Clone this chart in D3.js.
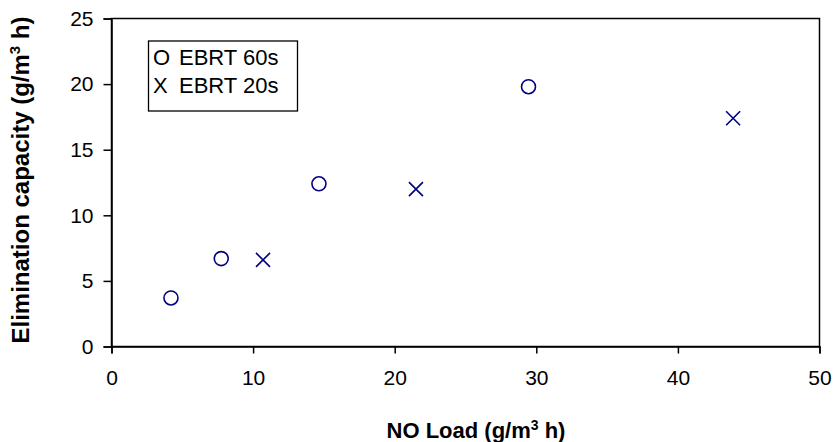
<!DOCTYPE html>
<html>
<head>
<meta charset="utf-8">
<script src="https://cdn.jsdelivr.net/npm/d3@7"></script>
<style>
body { margin: 0; background: #fff; }
text { font-family: "Liberation Sans", Arial, sans-serif; }
</style>
</head>
<body>
<div id="chart"></div>
<script>
// data
var load60 = [4.2, 7.75, 14.65, 29.45];
var ec60 = [3.7, 6.7, 12.4, 19.8];
var load20 = [10.7, 21.5, 43.9];
var ec20 = [6.6, 12.0, 17.4];
var xTicks = [0, 10, 20, 30, 40, 50];
var yTicks = [0, 5, 10, 15, 20, 25];
var legendSymbols = ["O", "X"];
var legendLabels = ["EBRT 60s", "EBRT 20s"];

var W = 835, H = 442;
var margin = {top: 18.5, right: 15.5, bottom: 95.5, left: 111.5};
var width = W - margin.left - margin.right,
    height = H - margin.top - margin.bottom;
var navy = "#000080";

var svg = d3.select("#chart")
  .append("svg")
  .attr("width", W)
  .attr("height", H);

var g = svg.append("g")
  .attr("transform", `translate(${margin.left},${margin.top})`);

var x = d3.scaleLinear().domain([0, 50]).range([0, width]);
var y = d3.scaleLinear().domain([0, 25]).range([height, 0]);

// frame
g.append("rect")
  .attr("width", width)
  .attr("height", height)
  .attr("fill", "none")
  .attr("stroke", "#000")
  .attr("stroke-width", 1.5);

// x axis
var xAxis = g.append("g")
  .attr("transform", `translate(0,${height})`)
  .call(d3.axisBottom(x).tickValues(xTicks).tickSize(7).tickPadding(17));
xAxis.select(".domain").attr("stroke-width", 1.5);
xAxis.selectAll(".tick line").attr("stroke-width", 1.5);
xAxis.selectAll("text").style("font-size", "21px").attr("fill", "#000");

// y axis
var yAxis = g.append("g")
  .call(d3.axisLeft(y).tickValues(yTicks).tickSize(8).tickPadding(10));
yAxis.select(".domain").attr("stroke-width", 1.5);
yAxis.selectAll(".tick line").attr("stroke-width", 1.5);
yAxis.selectAll("text").style("font-size", "21px").attr("fill", "#000");

// EBRT 60s circles
g.selectAll("circle.p60")
  .data(load60)
  .join("circle")
  .attr("class", "p60")
  .attr("cx", d => x(d))
  .attr("cy", (d, i) => y(ec60[i]))
  .attr("r", 7)
  .attr("fill", "none")
  .attr("stroke", navy)
  .attr("stroke-width", 1.6);

// EBRT 20s crosses
var s = 7;
g.selectAll("path.p20")
  .data(load20)
  .join("path")
  .attr("class", "p20")
  .attr("d", (d, i) => {
    var cx = x(d), cy = y(ec20[i]);
    return `M${cx - s},${cy - s}L${cx + s},${cy + s}M${cx - s},${cy + s}L${cx + s},${cy - s}`;
  })
  .attr("stroke", navy)
  .attr("stroke-width", 1.6)
  .attr("fill", "none");

// legend box
svg.append("rect")
  .attr("x", 148.5)
  .attr("y", 41)
  .attr("width", 149)
  .attr("height", 70)
  .attr("fill", "#fff")
  .attr("stroke", "#000")
  .attr("stroke-width", 1.3);

svg.selectAll("text.legs")
  .data(legendSymbols)
  .join("text")
  .attr("class", "legs")
  .attr("x", 153)
  .attr("y", (d, i) => 65 + i * 28)
  .style("font-size", "22px")
  .text(d => d);

svg.selectAll("text.leg")
  .data(legendLabels)
  .join("text")
  .attr("class", "leg")
  .attr("x", 179)
  .attr("y", (d, i) => 65 + i * 28)
  .style("font-size", "22px")
  .text(d => d);

// axis titles
var xt = svg.append("text")
  .attr("x", 476)
  .attr("y", 438)
  .attr("text-anchor", "middle")
  .style("font-size", "22px")
  .style("font-weight", "bold");
xt.append("tspan").text("NO Load (g/m");
xt.append("tspan").attr("dy", -8).style("font-size", "14px").text("3");
xt.append("tspan").attr("dy", 8).text(" h)");

var yt = svg.append("text")
  .attr("transform", "translate(29,180) rotate(-90)")
  .attr("text-anchor", "middle")
  .style("font-size", "24px")
  .style("font-weight", "bold");
yt.append("tspan").text("Elimination capacity (g/m");
yt.append("tspan").attr("dy", -9).style("font-size", "15px").text("3");
yt.append("tspan").attr("dy", 9).text(" h)");
</script>
</body>
</html>
